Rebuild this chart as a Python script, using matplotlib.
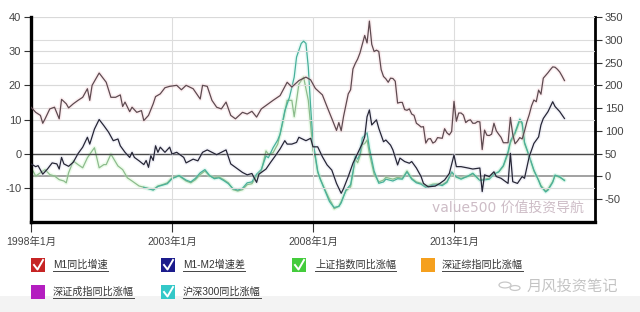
import matplotlib
matplotlib.use("Agg")
import matplotlib.pyplot as plt
from matplotlib.patches import Rectangle, Circle
from matplotlib.lines import Line2D

# ---------------- data ----------------
m1_dates = ["1998-01","1998-03","1998-05","1998-06","1998-07","1998-09","1998-11","1999-01","1999-02","1999-04",
            "1999-05","1999-07","1999-09","1999-11","2000-01","2000-02","2000-03","2000-06","2000-09","2000-11",
            "2001-01","2001-03","2001-04","2001-05","2001-07","2001-08","2001-10","2001-12","2002-01","2002-03",
            "2002-05","2002-06","2002-08","2002-10","2002-12","2003-03","2003-05","2003-07","2003-10","2004-01",
            "2004-02","2004-04","2004-06","2004-08","2004-10","2004-12","2005-02","2005-04","2005-07","2005-09",
            "2005-11","2006-01","2006-03","2006-05","2006-08","2006-11","2007-02","2007-04","2007-07","2007-10",
            "2007-12","2008-02","2008-05","2008-07","2008-09","2008-11","2008-12","2009-01","2009-02","2009-04",
            "2009-05","2009-06","2009-07","2009-08","2009-09","2009-10","2009-11","2009-12","2010-01","2010-02",
            "2010-03","2010-04","2010-05","2010-06","2010-07","2010-08","2010-09","2010-10","2010-11","2010-12",
            "2011-01","2011-02","2011-03","2011-04","2011-05","2011-06","2011-07","2011-08","2011-09","2011-10",
            "2011-11","2011-12","2012-01","2012-02","2012-03","2012-04","2012-05","2012-06","2012-07","2012-08",
            "2012-09","2012-10","2012-11","2012-12","2013-01","2013-02","2013-03","2013-04","2013-05","2013-06",
            "2013-07","2013-08","2013-09","2013-10","2013-11","2013-12","2014-01","2014-02","2014-03","2014-04",
            "2014-05","2014-06","2014-07","2014-08","2014-09","2014-10","2014-11","2014-12","2015-01","2015-02",
            "2015-03","2015-04","2015-05","2015-06","2015-07","2015-08","2015-09","2015-10","2015-11","2015-12",
            "2016-01","2016-02","2016-03","2016-04","2016-05","2016-06","2016-07","2016-08","2016-09","2016-10",
            "2016-11","2016-12"]
m1_yoy = [13.6,12.1,11.2,8.9,10.2,13.1,13.6,10.2,15.9,14.6,
          13.4,14.6,15.6,16.5,19.0,15.6,20.0,23.6,20.9,16.5,
          16.5,17.2,13.8,15.1,12.3,13.6,12.1,12.6,9.7,11.2,
          14.6,16.7,17.5,19.3,19.7,20.0,18.7,20.0,19.0,16.0,
          20.0,19.7,15.6,13.6,13.1,15.1,11.2,10.2,12.1,11.6,
          12.4,10.7,13.1,14.1,15.6,17.0,20.9,19.5,21.4,22.4,
          21.6,19.1,17.2,13.7,10.3,6.8,9.1,6.7,10.9,17.5,
          18.7,24.8,26.4,27.7,29.5,32.0,34.6,32.4,38.8,32.0,
          29.9,30.3,29.9,24.6,22.6,21.9,20.9,22.1,22.0,21.2,
          14.8,15.0,15.0,12.9,12.7,13.1,11.6,11.2,8.9,8.4,
          7.8,7.9,3.1,4.3,4.4,3.1,3.5,4.7,4.6,4.5,
          7.3,6.1,5.5,6.5,15.3,9.5,11.9,11.9,11.3,9.1,
          9.7,9.9,8.9,8.9,9.4,9.3,1.2,6.9,5.4,5.3,
          5.7,8.9,6.7,5.7,4.8,3.2,3.2,3.2,10.6,5.6,
          2.9,3.7,4.7,4.3,6.6,9.3,11.4,14.0,15.7,15.2,
          18.6,17.4,22.1,22.9,23.7,24.6,25.4,25.3,24.7,23.9,
          22.7,21.4]

spread_dates = ["1998-01","1998-03","1998-04","1998-06","1998-08","1998-10","1998-12","1999-01","1999-02","1999-03",
                "1999-05","1999-07","1999-09","1999-11","2000-01","2000-02","2000-04","2000-06","2000-08","2000-10",
                "2000-12","2001-02","2001-03","2001-05","2001-07","2001-08","2001-09","2001-11","2002-01","2002-02",
                "2002-03","2002-04","2002-05","2002-06","2002-07","2002-08","2002-10","2002-12","2003-01","2003-03",
                "2003-05","2003-06","2003-07","2003-10","2003-12","2004-02","2004-04","2004-06","2004-08","2004-10",
                "2004-12","2005-02","2005-04","2005-07","2005-09","2005-11","2006-01","2006-02","2006-05","2006-07",
                "2006-09","2006-11","2007-01","2007-02","2007-04","2007-06","2007-07","2007-10","2007-12","2008-01",
                "2008-03","2008-05","2008-07","2008-09","2008-11","2009-01","2009-02","2009-04","2009-06","2009-08",
                "2009-10","2009-11","2009-12","2010-01","2010-02","2010-04","2010-05","2010-07","2010-08","2010-10",
                "2010-11","2011-01","2011-02","2011-04","2011-06","2011-07","2011-09","2011-11","2011-12","2012-02",
                "2012-05","2012-07","2012-09","2012-11","2013-01","2013-02","2013-04","2013-07","2013-09","2013-12",
                "2014-01","2014-02","2014-04","2014-06","2014-07","2014-09","2014-12","2015-01","2015-02","2015-04",
                "2015-06","2015-07","2015-09","2015-11","2016-01","2016-02","2016-03","2016-05","2016-07","2016-08",
                "2016-10","2016-12"]
m1_m2_spread = [-3.0,-3.8,-3.5,-6.0,-4.5,-2.7,-3.0,-4.5,-1.1,-3.0,
                -3.7,-2.5,0.0,1.9,4.8,2.8,7.2,10.0,8.2,6.3,
                3.8,4.3,2.3,0.4,-1.1,0.4,-1.1,-2.1,-3.2,-2.0,
                -4.0,-0.6,-2.0,2.3,0.4,1.9,0.4,1.9,-0.1,0.4,
                -0.6,-1.1,-2.7,-1.6,-2.1,0.4,1.1,0.4,-0.3,0.4,
                1.1,-3.0,-4.0,-5.5,-6.2,-5.8,-8.4,-6.0,-4.5,-2.5,
                -0.6,1.4,3.8,2.8,2.8,3.3,4.8,3.8,4.5,2.0,
                2.0,-0.9,-3.3,-4.8,-8.7,-11.6,-10.2,-6.7,-2.8,0.1,
                3.0,4.9,10.8,12.8,8.4,9.9,7.4,3.5,4.0,2.5,
                1.1,-3.3,-1.3,-2.3,-2.8,-2.3,-4.2,-6.7,-8.7,-9.7,
                -9.5,-8.7,-7.7,-5.8,-0.4,-3.8,-3.8,-4.2,-4.5,-4.2,
                -11.1,-6.2,-6.7,-5.3,-6.7,-7.2,-8.7,0.1,-8.2,-8.7,
                -6.7,-7.2,-0.9,3.0,4.9,8.4,10.3,12.3,15.2,13.8,
                12.3,10.3]

sh_dates = ["1998-01","1998-03","1998-05","1998-07","1998-09","1998-11","1999-01","1999-03","1999-04","1999-05",
            "1999-07","1999-09","1999-11","2000-01","2000-03","2000-04","2000-06","2000-08","2000-09","2000-11",
            "2001-02","2001-04","2001-06","2001-08","2001-11","2002-02","2002-05","2002-07","2002-09","2002-11",
            "2003-01","2003-04","2003-07","2003-09","2003-11","2004-01","2004-03","2004-05","2004-07","2004-09",
            "2004-11","2005-01","2005-03","2005-05","2005-07","2005-09","2005-11","2006-01","2006-03","2006-05",
            "2006-06","2006-08","2006-10","2006-12","2007-02","2007-04","2007-05","2007-07","2007-09","2007-11",
            "2008-01","2008-02","2008-03","2008-04","2008-06","2008-08","2008-09","2008-10","2008-12","2009-01",
            "2009-03","2009-05","2009-06","2009-07","2009-08","2009-09","2009-10","2009-11","2009-12","2010-01",
            "2010-03","2010-05","2010-07","2010-08","2010-11","2011-01","2011-03","2011-05","2011-07","2011-09",
            "2011-11","2012-01","2012-04","2012-06","2012-08","2012-10","2012-12","2013-02","2013-04","2013-07",
            "2013-09","2013-12","2014-04","2014-06","2014-08","2014-10","2014-12","2015-01","2015-03","2015-05",
            "2015-06","2015-07","2015-09","2015-11","2016-01","2016-02","2016-04","2016-05","2016-07","2016-08",
            "2016-10","2016-12"]
sh_yoy = [20,1,8,15,4,1,-7,-10,-14,8,
          34,26,19,41,56,63,19,26,26,49,
          23,15,-3,-10,-21,-25,-29,-21,-18,-14,
          -3,1,-10,-14,-7,4,12,1,-3,-1,
          -7,-14,-29,-32,-29,-18,-16,1,12,56,
          49,52,71,115,167,167,131,203,218,167,
          57,40,9,-4,-28,-50,-59,-71,-65,-55,
          -32,-23,8,38,30,45,70,72,80,50,
          5,-12,-8,-2,-6,-2,-4,12,-4,-12,
          -15,-22,-17,-16,-18,-11,8,-2,-4,0,
          6,-8,-4,6,10,22,50,74,94,122,
          115,72,44,12,-8,-20,-32,-28,-11,2,
          -2,-8]

hs300_dates = ["2002-01","2002-03","2002-05","2002-07","2002-09","2002-11","2003-01","2003-04","2003-07","2003-09",
               "2003-11","2004-01","2004-03","2004-05","2004-07","2004-09","2004-11","2005-01","2005-03","2005-05",
               "2005-07","2005-09","2005-11","2006-01","2006-03","2006-05","2006-06","2006-08","2006-10","2006-11",
               "2007-01","2007-03","2007-05","2007-06","2007-08","2007-09","2007-10","2007-11","2007-12","2008-01",
               "2008-03","2008-04","2008-06","2008-08","2008-09","2008-10","2008-12","2009-01","2009-03","2009-05",
               "2009-06","2009-07","2009-08","2009-09","2009-10","2009-11","2009-12","2010-01","2010-03","2010-05",
               "2010-07","2010-08","2010-11","2011-01","2011-03","2011-05","2011-07","2011-09","2011-11","2012-01",
               "2012-04","2012-06","2012-08","2012-10","2012-12","2013-02","2013-04","2013-07","2013-09","2013-12",
               "2014-04","2014-06","2014-08","2014-10","2014-12","2015-01","2015-03","2015-05","2015-06","2015-07",
               "2015-09","2015-11","2016-01","2016-02","2016-04","2016-05","2016-07","2016-08","2016-10","2016-12"]
hs300_yoy = [-24,-27,-30,-22,-19,-16,-5,2,-8,-12,
             -4,8,15,2,-5,-3,-9,-16,-27,-30,
             -26,-14,-12,5,15,45,41,63,80,93,
             144,174,218,262,292,297,292,240,152,78,
             12,-5,-30,-55,-62,-68,-66,-58,-30,-18,
             10,45,38,50,85,90,96,62,12,-15,
             -12,-6,-10,-5,-6,10,-6,-14,-17,-24,
             -19,-18,-20,-13,10,-1,-6,1,7,-9,
             -6,5,10,24,54,78,97,126,118,75,
             45,14,-9,-22,-34,-30,-13,3,-1,-9]

legend_labels = ["M1同比增速", "M1-M2增速差", "上证指数同比涨幅", "深证综指同比涨幅", "深证成指同比涨幅", "沪深300同比涨幅"]
legend_colors = ["#c62424", "#1c1c8c", "#44cc3c", "#f5a01e", "#b41ec0", "#34c8c8"]
legend_checked = [True, True, True, False, False, True]

left_ticks = [-10, 0, 10, 20, 30, 40]
right_ticks = [-50, 0, 50, 100, 150, 200, 250, 300, 350]
x_tick_years = [1998, 2003, 2008, 2013]
x_tick_labels = ["1998年1月", "2003年1月", "2008年1月", "2013年1月"]


def to_year(d):
    y, m = d.split("-")
    return int(y) + (int(m) - 1) / 12.0


CJK = ["Liberation Sans", "Noto Sans CJK SC"]
plt.rcParams["font.family"] = CJK

W, H = 640, 312
fig = plt.figure(figsize=(W / 100, H / 100), dpi=100)
fig.patch.set_facecolor("white")
fig.patches.append(Rectangle((0, 0), 1, 16 / H, transform=fig.transFigure,
                             facecolor="#f3f3f3", edgecolor="none", zorder=0))

L, R, T, B = 31, 595, 17, 222
ax = fig.add_axes([L / W, 1 - B / H, (R - L) / W, (B - T) / H])
ax2 = ax.twinx()
ax.set_zorder(ax2.get_zorder() + 1)
ax.patch.set_visible(False)

ax.set_xlim(1998.0, 2018.0)
ax.set_ylim(-20, 40)
ax2.set_ylim(-100, 350)

for v in left_ticks:
    if v == 0:
        ax.axhline(v, color="#4a4a4a", lw=1.0, zorder=1)
    else:
        ax.axhline(v, color="#d9d9d9", lw=0.8, zorder=1)
for v in right_ticks:
    if v == 0:
        ax2.axhline(v, color="#9a9a9a", lw=1.3, zorder=1)
    else:
        ax2.axhline(v, color="#dcdcdc", lw=0.8, zorder=1)
for yv in x_tick_years[1:]:
    ax.axvline(yv, color="#dddddd", lw=0.8, zorder=1)


def glow_line(a, xs, ys, color, glow, lw=0.9, glw=3.0, alpha=0.25):
    a.plot(xs, ys, color=glow, lw=glw, alpha=alpha, solid_capstyle="round", zorder=2)
    a.plot(xs, ys, color=color, lw=lw, zorder=3)


glow_line(ax2, [to_year(d) for d in sh_dates], sh_yoy, "#8cbc8c", "#b8f0b0")
glow_line(ax2, [to_year(d) for d in hs300_dates], hs300_yoy, "#48b09a", "#a8ece0")
glow_line(ax, [to_year(d) for d in m1_dates], m1_yoy, "#5e4a50", "#f4c0c8")
glow_line(ax, [to_year(d) for d in spread_dates], m1_m2_spread, "#262636", "#cfcfe6")

for a in (ax, ax2):
    a.spines["top"].set_visible(False)
ax.spines["left"].set_linewidth(2.4)
ax.spines["bottom"].set_linewidth(2.4)
ax.spines["right"].set_visible(False)
ax2.spines["left"].set_visible(False)
ax2.spines["bottom"].set_visible(False)
ax2.spines["right"].set_linewidth(2.0)

ax.set_yticks(left_ticks)
ax.set_yticklabels([str(v) for v in left_ticks])
ax2.set_yticks(right_ticks)
ax2.set_yticklabels([str(v) for v in right_ticks])
ax.set_xticks(x_tick_years)
ax.set_xticklabels(x_tick_labels)
ax.tick_params(axis="y", length=5, width=0.8, color="#333333", labelsize=8, labelcolor="#444444", pad=2)
ax2.tick_params(axis="y", length=5, width=0.8, color="#333333", labelsize=8, labelcolor="#444444", pad=2)
ax.tick_params(axis="x", length=7, width=0.8, color="#333333", labelsize=7.5, labelcolor="#444444", pad=4)

ax.text(0.98, 0.07, "value500 价值投资导航", transform=ax.transAxes, ha="right", va="center",
        fontsize=10, color="#cdbcc6", family=["DejaVu Sans", "Noto Sans CJK SC"], zorder=5)

box_x = [31, 161, 292, 421, 31, 161]
text_x = [53, 183, 315, 442, 53, 183]
row_y = [265, 265, 265, 265, 292, 292]
texts = []
for i, lab in enumerate(legend_labels):
    bx, by = box_x[i], row_y[i]
    fig.patches.append(Rectangle((bx / W, 1 - (by + 7) / H), 14 / W, 14 / H, transform=fig.transFigure,
                                 facecolor=legend_colors[i], edgecolor="none", zorder=3))
    if legend_checked[i]:
        fig.lines.append(Line2D([(bx + 3) / W, (bx + 6.5) / W, (bx + 12) / W],
                                [1 - (by + 0) / H, 1 - (by + 4.5) / H, 1 - (by - 5) / H],
                                transform=fig.transFigure, color="white", lw=1.4, zorder=4))
    t = fig.text(text_x[i] / W, 1 - by / H, lab, ha="left", va="center", fontsize=7.3, color="#333333")
    texts.append(t)

fig.canvas.draw()
renderer = fig.canvas.get_renderer()
for t in texts:
    bb = t.get_window_extent(renderer)
    yline = bb.y0 - 0.5
    fig.lines.append(Line2D([bb.x0 / W, bb.x1 / W], [yline / H, yline / H], transform=fig.transFigure,
                            color="#444444", lw=0.7))

fig.patches.append(Circle((505 / W, 1 - 285 / H), 6 / W, transform=fig.transFigure, fill=False,
                          edgecolor="#c8c8c8", lw=0.9))
fig.patches.append(Circle((515 / W, 1 - 288 / H), 5 / W, transform=fig.transFigure, fill=False,
                          edgecolor="#c8c8c8", lw=0.9))
fig.text(527 / W, 1 - 286 / H, "月风投资笔记", ha="left", va="center", fontsize=11, color="#c4c4c4",
         family=["Noto Sans CJK SC"])

fig.savefig("out.png", dpi=100)
